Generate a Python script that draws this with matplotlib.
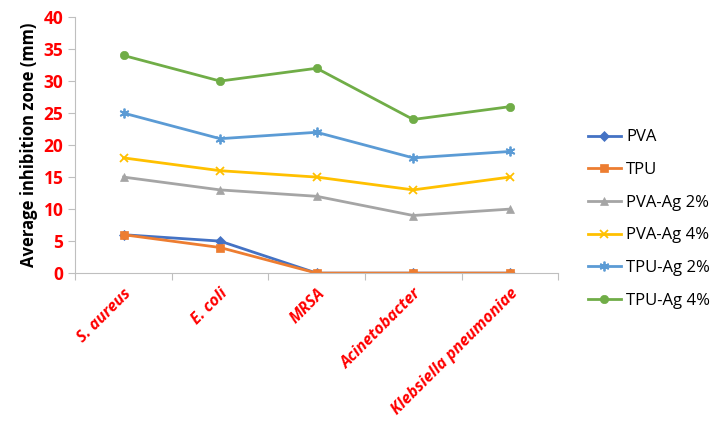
import numpy as np
import matplotlib.pyplot as plt

bacteria = ['S. aureus', 'E. coli', 'MRSA', 'Acinetobacter', 'Klebsiella pneumoniae']
series_names = ['PVA', 'TPU', 'PVA-Ag 2%', 'PVA-Ag 4%', 'TPU-Ag 2%', 'TPU-Ag 4%']
pva = [6, 5, 0, 0, 0]
tpu = [6, 4, 0, 0, 0]
pva_ag2 = [15, 13, 12, 9, 10]
pva_ag4 = [18, 16, 15, 13, 15]
tpu_ag2 = [25, 21, 22, 18, 19]
tpu_ag4 = [34, 30, 32, 24, 26]

colors = ['#4472C4', '#ED7D31', '#A5A5A5', '#FFC000', '#5B9BD5', '#70AD47']
markers = ['D', 's', '^', 'x', (6, 2, 0), 'o']
sizes = [5, 6, 6, 6, 7, 6]

plt.rcParams['font.family'] = ['Open Sans', 'DejaVu Sans']

fig = plt.figure(figsize=(7.1, 4.37), dpi=100)
ax = fig.add_axes([0.106, 0.375, 0.68, 0.586])

x = np.arange(len(bacteria)) + 0.5
data = [pva, tpu, pva_ag2, pva_ag4, tpu_ag2, tpu_ag4]
for vals, name, c, m, s in zip(data, series_names, colors, markers, sizes):
    ax.plot(x, vals, color=c, marker=m, markersize=s, lw=2, label=name,
            markeredgewidth=1.3 if m in ('x', (6, 2, 0)) else 0.5)

ax.set_xlim(0, len(bacteria))
ax.set_ylim(0, 40)
ax.set_yticks(np.arange(0, 41, 5))
ax.set_xticks(np.arange(len(bacteria) + 1))
ax.set_xticklabels([])
ax.set_xticks(x, minor=True)
ax.set_xticklabels(bacteria, minor=True, rotation=45, ha='right', rotation_mode='anchor',
                   color='red', fontweight='bold', fontstyle='italic', fontsize=11.5)
ax.tick_params(axis='x', which='minor', length=0, pad=9)
ax.tick_params(axis='x', which='major', length=5, color='#BFBFBF')
ax.tick_params(axis='y', length=5, color='#BFBFBF', labelcolor='red', labelsize=12.5)
for lab in ax.get_yticklabels():
    lab.set_fontweight('bold')
for s in ['top', 'right']:
    ax.spines[s].set_visible(False)
for s in ['left', 'bottom']:
    ax.spines[s].set_color('#BFBFBF')
ax.set_ylabel('Average inhibition zone (mm)', fontweight='bold', fontsize=12)

ax.legend(loc='upper left', bbox_to_anchor=(1.03, 0.62), frameon=False, fontsize=12,
          labelspacing=1.0, handlelength=2.0, handletextpad=0.3)

fig.savefig('out.png', dpi=100)
